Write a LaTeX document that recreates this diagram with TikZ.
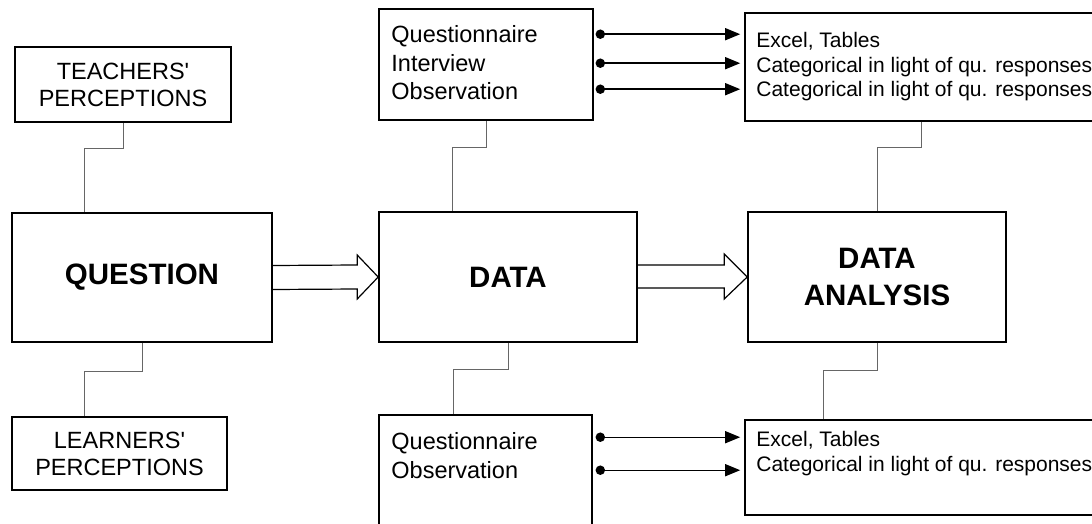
\documentclass[tikz,border=0pt]{standalone}
\usepackage{fontspec}
\setmainfont{Liberation Sans}
\usetikzlibrary{calc,arrows.meta}
\begin{document}
\begin{tikzpicture}[x=1pt,y=-1pt,
  box/.style={draw=black, line width=1.6pt, rectangle, inner sep=0pt, align=center},
  caps/.style={font=\fontsize{23.5}{27}\selectfont},
  big/.style={font=\fontsize{29.5}{37}\selectfont\bfseries},
  item/.style={inner sep=0pt, anchor=base west, font=\fontsize{23.5}{28}\selectfont},
  note/.style={inner sep=0pt, anchor=base west, font=\fontsize{21}{25}\selectfont},
  link/.style={draw=black!60, line width=0.9pt},
  hollow/.style={draw=black, line width=1.2pt, line join=miter},
  feed/.style={line width=1.4pt, -{Triangle[length=15pt,width=12pt]}},
  dot/.style={circle, fill=black, inner sep=0pt, minimum size=9.5pt}]
\useasboundingbox (0,0) rectangle (1092,524);
\clip (0,0) rectangle (1092,524);

% main chain
\node[box, big, minimum width=260pt, minimum height=129pt] (q) at (142,277.5) {QUESTION};
\node[box, big, minimum width=258pt, minimum height=130pt] (d) at (508,277) {DATA};
\node[box, big, minimum width=258pt, minimum height=130pt] (da) at (877,277) {DATA\\ANALYSIS};

% perception boxes
\node[box, caps, minimum width=216pt, minimum height=75pt] (tp) at (123,84.5) {TEACHERS\textquotesingle\\PERCEPTIONS};
\node[box, caps, minimum width=215pt, minimum height=73pt] (lp) at (119.5,453.5) {LEARNERS\textquotesingle\\PERCEPTIONS};

% instrument boxes
\node[box, minimum width=214pt, minimum height=111pt] (dt) at (486,64.5) {};
\node[box, minimum width=213pt, minimum height=145pt] (db) at (485.5,487.5) {};
\node[item] (dt1) at ($(dt.north west)+(13,34)$) {Questionnaire};
\node[item] (dt2) at ($(dt.north west)+(13,63)$) {Interview};
\node[item] (dt3) at ($(dt.north west)+(13,91)$) {Observation};
\node[item] (db1) at ($(db.north west)+(13,35)$) {Questionnaire};
\node[item] (db2) at ($(db.north west)+(13,64)$) {Observation};

% analysis boxes
\node[box, minimum width=375pt, minimum height=108pt] (tr) at (932.5,67) {};
\node[box, minimum width=375pt, minimum height=95pt] (br) at (932.5,467.5) {};
\node[note] (tr1) at ($(tr.north west)+(12,35)$) {Excel, Tables};
\node[note] (tr2) at ($(tr.north west)+(12,60)$) {Categorical in light of qu. responses};
\node[note] (tr3) at ($(tr.north west)+(12,84)$) {Categorical in light of qu. responses};
\node[note] (br1) at ($(br.north west)+(12,27)$) {Excel, Tables};
\node[note] (br2) at ($(br.north west)+(12,52)$) {Categorical in light of qu. responses};

% elbow links
\draw[link] (tp.south) -- ++(0,26) -| ($(q.north west)+(73,0)$);
\draw[link] (q.south) -- ++(0,29) -| ($(lp.north west)+(73,0)$);
\draw[link] (dt.south) -- ++(0,27) -| ($(d.north west)+(74,0)$);
\draw[link] (d.south) -- ++(0,27) -| ($(db.north west)+(75,0)$);
\draw[link] ($(tr.south west)+(177,0)$) -- ++(0,26) -| (da.north);
\draw[link] (da.south) -- ++(0,28) -| ($(br.north west)+(79,0)$);

% hollow block arrows
\draw[hollow] ($(q.east)+(0,-12)$) -- ($(d.west)+(-21,-12)$) -- ($(d.west)+(-21,-22)$)
  -- (d.west) -- ($(d.west)+(-21,22)$) -- ($(d.west)+(-21,12)$) -- ($(q.east)+(0,12)$);
\draw[hollow] ($(d.east)+(0,-12)$) -- ($(da.west)+(-23,-12)$) -- ($(da.west)+(-23,-23)$)
  -- (da.west) -- ($(da.west)+(-23,22)$) -- ($(da.west)+(-23,11)$) -- ($(d.east)+(0,11)$);

% instrument feeds: dot at the source, filled head at the target
\foreach \dy/\nm in {26/a, 55/b, 81/c} {
  \node[dot] (s\nm) at ($(dt.north east)+(6.5,\dy)$) {};
  \draw[feed] (s\nm.center) -- ($(tr.west |- s\nm)+(-4,0)$);
}
\foreach \dy/\nm in {23/d, 56/e} {
  \node[dot] (s\nm) at ($(db.north east)+(7.5,\dy)$) {};
  \draw[feed] (s\nm.center) -- ($(br.west |- s\nm)+(-4,0)$);
}
\end{tikzpicture}
\end{document}
